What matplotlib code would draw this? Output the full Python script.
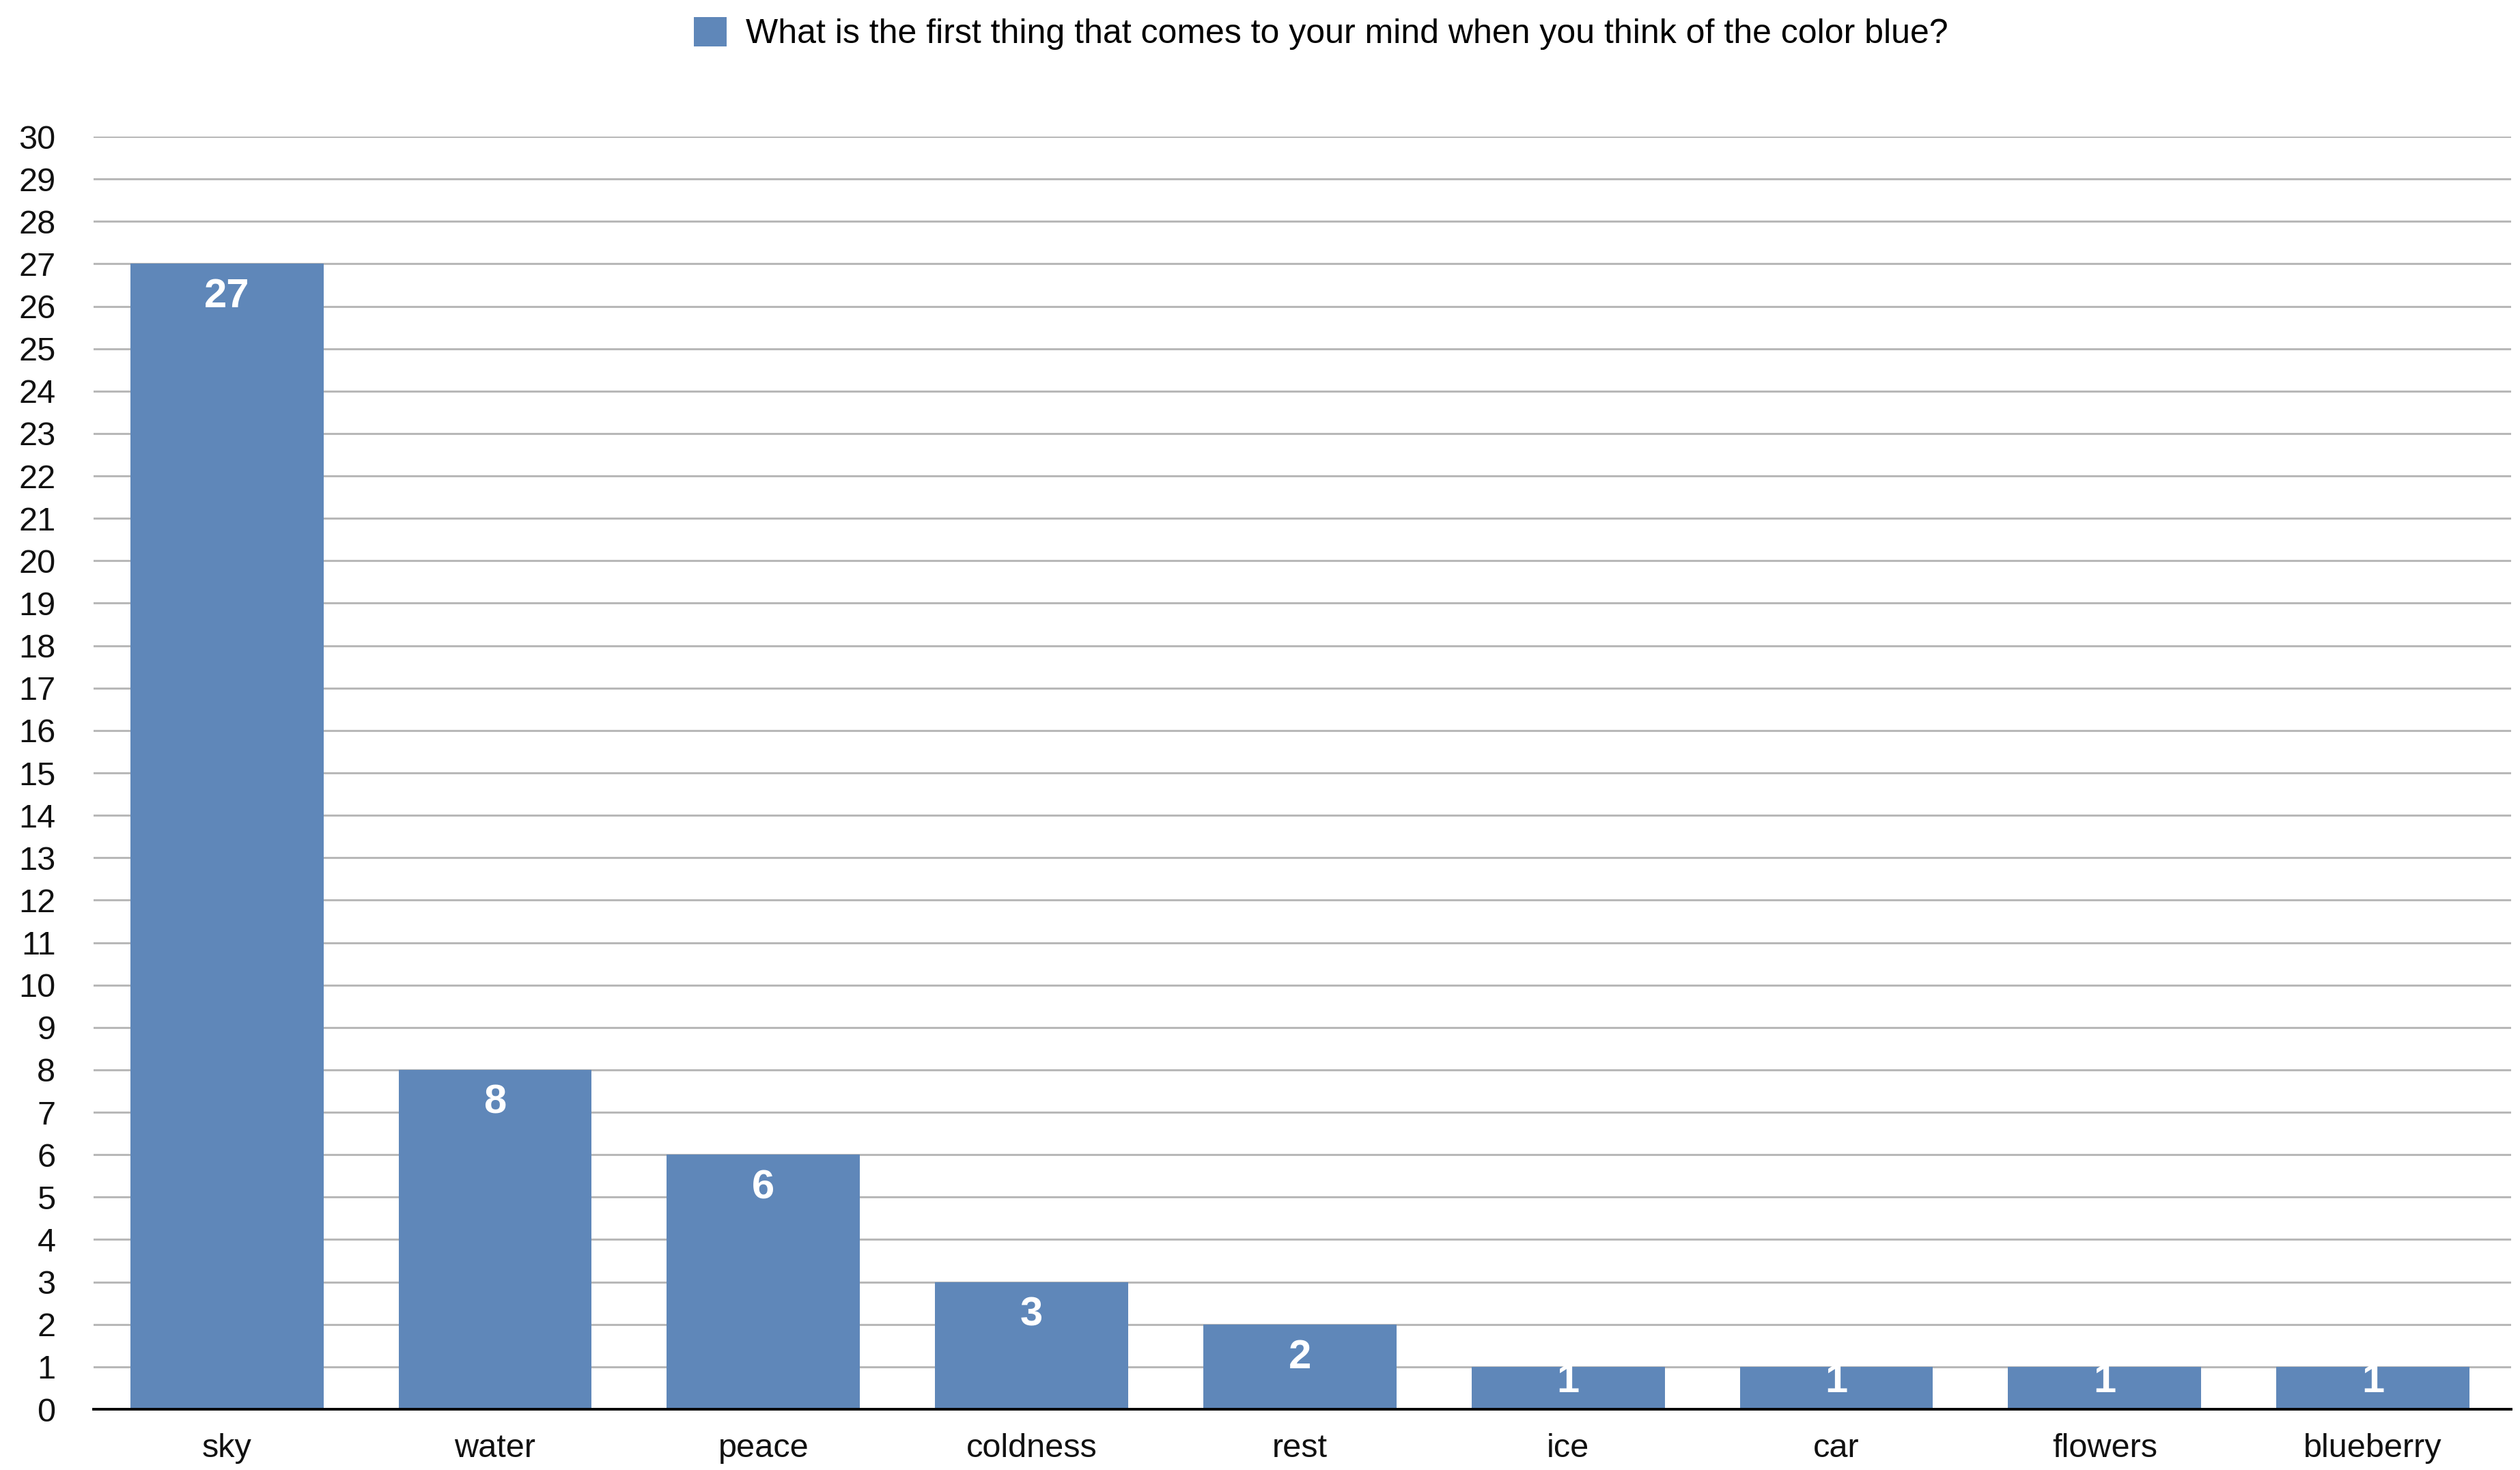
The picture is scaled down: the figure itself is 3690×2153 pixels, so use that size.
import matplotlib
matplotlib.use("Agg")
import matplotlib.pyplot as plt
from matplotlib.patches import Patch

# Survey answers
categories = ["sky", "water", "peace", "coldness", "rest", "ice", "car", "flowers", "blueberry"]
counts = [27, 8, 6, 3, 2, 1, 1, 1, 1]
series_name = "What is the first thing that comes to your mind when you think of the color blue?"
y_ticks = list(range(0, 31))

BAR = "#5f87b9"
GRID = "#b8b8b8"

plt.rcParams["font.family"] = ["Liberation Sans", "DejaVu Sans"]

W, H, dpi = 3691, 2153, 100
fig = plt.figure(figsize=(W / dpi, H / dpi), dpi=dpi)
fig.patch.set_facecolor("white")
ax = fig.add_axes([137 / W, 1 - 2064 / H, (3677 - 137) / W, (2064 - 200) / H])

x = list(range(len(categories)))
bars = ax.bar(x, counts, width=0.72, color=BAR, zorder=3)

# value labels: white bold, just under the bar top, but kept off the baseline
for b, v in zip(bars, counts):
    y_base = max(v - 1.03, 0.40)
    t = ax.text(b.get_x() + b.get_width() / 2, y_base, str(v),
                ha="center", va="baseline", color="white",
                fontsize=43, fontweight="bold", zorder=4)
    t.set_clip_path(b)

ax.set_xlim(-0.497, len(categories) - 1 + 0.515)
ax.set_ylim(0, 30)
ax.set_yticks(y_ticks)
ax.set_xticks(x)
ax.set_xticklabels(categories)
ax.tick_params(axis="y", length=0, pad=40, labelsize=35, labelcolor="#111111")
ax.tick_params(axis="x", length=0, pad=25, labelsize=35, labelcolor="#111111")

ax.yaxis.grid(True, color=GRID, linewidth=2.2, zorder=0)
ax.set_axisbelow(True)
for s in ["top", "right", "left"]:
    ax.spines[s].set_visible(False)
ax.spines["bottom"].set_color("black")
ax.spines["bottom"].set_linewidth(2.8)
ax.spines["bottom"].set_zorder(5)

handle = Patch(facecolor=BAR, edgecolor="none")
fig.legend([handle], [series_name], loc="center",
           bbox_to_anchor=(0.524, 1 - 49 / H), frameon=False,
           fontsize=36, handlelength=0.96, handleheight=0.96, handletextpad=0.56)

fig.savefig("out.png", dpi=dpi, facecolor="white")
